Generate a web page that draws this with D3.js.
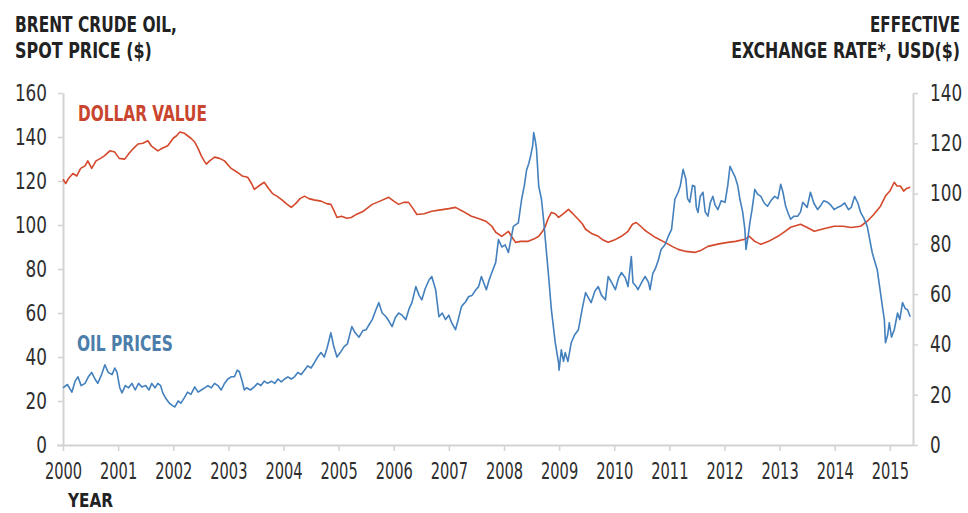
<!DOCTYPE html>
<html>
<head>
<meta charset="utf-8">
<script src="https://cdn.jsdelivr.net/npm/d3@7"></script>
<style>
  html, body { margin: 0; padding: 0; background: #fff; }
  svg { display: block; }
  .tick text { font-family: "DejaVu Sans Condensed", "Liberation Sans Narrow", sans-serif; fill: #2e2e2e; }
  .title { font-family: "DejaVu Sans Condensed", "Liberation Sans Narrow", sans-serif; font-weight: bold; fill: #222; }
</style>
</head>
<body>
<svg id="chart" width="968" height="513"></svg>
<script>
// Brent crude spot price, $ per barrel (decimal year, value)
const oilDates = [
  2000.00,2000.08,2000.16,2000.22,2000.27,2000.33,2000.40,2000.46,2000.52,2000.58,2000.63,2000.70,2000.76,2000.82,2000.89,2000.94,2000.98,
  2001.03,2001.07,2001.13,2001.19,2001.25,2001.31,2001.37,2001.43,2001.50,2001.56,2001.61,2001.67,2001.72,2001.77,2001.81,2001.87,2001.93,2001.98,
  2002.03,2002.09,2002.14,2002.20,2002.26,2002.32,2002.39,2002.45,2002.51,2002.57,2002.63,2002.69,2002.75,2002.81,2002.87,2002.93,2002.99,
  2003.05,2003.11,2003.16,2003.20,2003.25,2003.29,2003.33,2003.40,2003.47,2003.53,2003.59,2003.65,2003.71,2003.78,2003.84,2003.90,2003.96,
  2004.02,2004.08,2004.14,2004.20,2004.26,2004.32,2004.38,2004.44,2004.50,2004.56,2004.62,2004.68,2004.74,2004.79,2004.86,2004.91,2004.97,
  2005.03,2005.10,2005.16,2005.24,2005.30,2005.37,2005.44,2005.50,2005.56,2005.61,2005.67,2005.73,2005.79,2005.86,2005.92,2005.97,
  2006.03,2006.09,2006.15,2006.22,2006.28,2006.33,2006.40,2006.46,2006.51,2006.57,2006.64,2006.69,2006.76,2006.82,2006.88,2006.94,
  2007.00,2007.05,2007.12,2007.17,2007.23,2007.30,2007.36,2007.42,2007.49,2007.54,2007.59,2007.68,2007.73,2007.78,2007.85,2007.90,2007.96,
  2008.02,2008.08,2008.13,2008.17,2008.26,2008.32,2008.37,2008.41,2008.45,2008.48,2008.52,2008.54,2008.57,2008.59,2008.63,2008.68,2008.72,2008.75,2008.81,2008.86,2008.93,2008.99,
  2009.00,2009.04,2009.08,2009.11,2009.16,2009.22,2009.28,2009.35,2009.42,2009.48,2009.53,2009.58,2009.65,2009.71,2009.77,2009.84,2009.89,2009.95,
  2010.02,2010.08,2010.13,2010.20,2010.25,2010.31,2010.34,2010.40,2010.43,2010.50,2010.56,2010.62,2010.65,2010.70,2010.74,2010.80,2010.85,2010.92,2010.98,
  2011.04,2011.10,2011.16,2011.20,2011.25,2011.30,2011.33,2011.37,2011.42,2011.46,2011.49,2011.52,2011.56,2011.61,2011.65,2011.70,2011.74,2011.79,2011.83,2011.88,2011.94,
  2012.01,2012.06,2012.10,2012.15,2012.19,2012.24,2012.28,2012.33,2012.37,2012.39,2012.43,2012.46,2012.50,2012.55,2012.60,2012.66,2012.72,2012.78,2012.84,2012.91,2012.97,
  2013.02,2013.06,2013.11,2013.16,2013.20,2013.26,2013.33,2013.38,2013.42,2013.50,2013.56,2013.62,2013.69,2013.75,2013.80,2013.87,2013.93,2013.99,
  2014.05,2014.10,2014.18,2014.25,2014.30,2014.36,2014.42,2014.47,2014.53,2014.59,2014.68,2014.72,2014.77,2014.83,2014.87,2014.90,2014.92,2014.96,2014.99,
  2015.03,2015.08,2015.14,2015.18,2015.23,2015.28,2015.32,2015.37
];
const oilPrices = [
  26,27.5,24,29,31,27,28,31,33,30,28,32,36.5,33,32,35,33,
  26,23.7,27,26,28,25,28,26.4,27,25,28,26,28,27,23.7,21,19,18,
  17.3,20,19,21.4,24,23,26.4,24,25,26,27,26,28,27,25,28,30,
  31,31,34,33.3,29,25,26,25,26.4,28,27,29,28,29,28,30,28.7,
  30,31,30,31,33,32,34,36,35,37.4,40,42,40,44,51,45,40,
  42,44.7,46,53.8,51,49,52,52.4,55,57,61,64.7,60,58.3,56,53.8,
  58,60,59,57,62,64.7,72,68,66,71,75,76.6,70.6,58.3,60,57,
  59,55.6,52.4,57,63,65,67.5,68,70.6,72,76.6,70.6,75,78.4,83,93.4,90,
  91,87.5,94,99.4,101,111.7,118,125,128,131,136,142,138,134.5,117.6,111.7,102,93.4,76.6,61.5,46.5,37.4,
  34,43.3,38,42,38,46.5,50,52.4,62,69.3,67,64.7,70,72,68,66,76.6,74,
  70.6,76,78.4,76,72,85.7,73.8,72,70.6,74,76.6,74,70.6,78,79.8,84,88.9,91,94.8,
  98,111.7,114.9,118,125.3,120.8,112,110.3,118,117.6,108,105.7,113,114.9,106,104,110,113,109,107,111,
  110.3,118,126.7,124,122,118,111.7,106,98,88.9,95,101,107,116.2,114,113,110,108.5,111,113,112,
  118.5,115,108.5,105,102.6,104,104,106,110.3,108,114.9,110,107,109,111,110.3,109,107,
  108,108.5,110,107,108,113,110,105.7,103,99.4,87.5,84,79.8,69.3,62,57,46.5,50,55.6,
  49,52.4,60,57,64.7,62,61.5,58.3
];

// Trade-weighted effective exchange rate of the US dollar (decimal year, index)
const dollarDates = [
  2000.00,2000.05,2000.10,2000.18,2000.25,2000.32,2000.40,2000.45,2000.52,2000.60,2000.68,2000.75,2000.85,2000.94,
  2001.02,2001.12,2001.20,2001.28,2001.36,2001.45,2001.54,2001.60,2001.66,2001.72,2001.80,2001.90,
  2002.00,2002.06,2002.12,2002.20,2002.26,2002.32,2002.39,2002.45,2002.51,2002.56,2002.60,2002.66,2002.75,2002.84,2002.93,
  2003.05,2003.16,2003.25,2003.35,2003.42,2003.47,2003.55,2003.65,2003.73,2003.80,2003.88,2003.96,
  2004.05,2004.14,2004.22,2004.30,2004.38,2004.46,2004.55,2004.68,2004.78,2004.86,2004.92,2004.97,
  2005.05,2005.15,2005.23,2005.32,2005.45,2005.61,2005.75,2005.91,
  2006.00,2006.09,2006.18,2006.27,2006.35,2006.42,2006.55,2006.69,2006.85,
  2007.00,2007.12,2007.25,2007.41,2007.55,2007.67,2007.78,2007.85,2007.96,
  2008.02,2008.08,2008.15,2008.21,2008.30,2008.44,2008.55,2008.63,2008.70,2008.75,2008.80,2008.86,2008.93,2008.99,
  2009.08,2009.17,2009.25,2009.35,2009.42,2009.48,2009.60,2009.71,2009.80,2009.89,
  2010.00,2010.13,2010.25,2010.33,2010.40,2010.48,2010.55,2010.61,2010.75,2010.92,
  2011.05,2011.16,2011.30,2011.46,2011.58,2011.70,2011.80,2011.90,
  2012.06,2012.20,2012.37,2012.45,2012.55,2012.66,2012.80,2012.97,
  2013.10,2013.20,2013.38,2013.50,2013.63,2013.80,2013.99,
  2014.15,2014.30,2014.47,2014.59,2014.70,2014.83,2014.92,
  2015.00,2015.08,2015.13,2015.19,2015.25,2015.30,2015.37
];
const dollarIndex = [
  105.7,104,106,108,107,110,111,113,110,113,114,115,117,116.5,
  114,113.7,116,118,119.7,120,121,119,118,117,118,119,
  122,123,124.5,124,123,122,120.5,118,115,113,111.7,113,114.5,114,113,
  110,108.5,107,106.5,104,101.7,103,104.5,102,100,99,97.7,
  96,94.5,96,98,99,98,97.5,97,96,95.7,93,90.5,
  91,90.2,90.5,91.7,93,95.7,97,98.5,
  97,95.7,96.5,96.5,94,91.7,92,93,93.5,
  94,94.5,93,91,90,89,87,84.6,83,
  84,85,82.5,80.6,81,81,82,83,85,87,90,92.5,92,90.5,
  92,93.7,92,89.7,88,85.8,84,83,81.5,80.6,
  81.5,83,85,87.8,88.5,87,85.5,84.6,82.5,80.6,
  79,77.8,77,76.6,77.5,79,79.5,80,
  80.6,81,81.8,83,81,79.8,81,83,
  85,86.6,87.8,86.5,85,86,87,
  87,86.5,87,89,91.5,95,99,
  101,104.5,103,103,101,102,102.5
];

const yearTicks = [2000,2001,2002,2003,2004,2005,2006,2007,2008,2009,2010,2011,2012,2013,2014,2015];
const oilTicks = [0,20,40,60,80,100,120,140,160];
const dollarTicks = [0,20,40,60,80,100,120,140];

const oilSeries = oilDates.map((d, i) => ({ t: d, v: oilPrices[i] }));
const dollarSeries = dollarDates.map((d, i) => ({ t: d, v: dollarIndex[i] }));

const svg = d3.select("#chart");
const plot = { left: 63, right: 913, top: 93, bottom: 445 };

const x = d3.scaleLinear().domain([2000, 2015.42]).range([plot.left, plot.right]);
const yOil = d3.scaleLinear().domain([0, 160]).range([plot.bottom, plot.top]);
const yDollar = d3.scaleLinear().domain([0, 140]).range([plot.bottom, plot.top]);

const axisColor = "#d3d3d3";

// condensed numerals: squeeze each label to a fixed width per character
function styleAxis(g, size, perChar) {
  g.select(".domain").attr("stroke", axisColor).attr("stroke-width", 2);
  g.selectAll(".tick line").attr("stroke", axisColor).attr("stroke-width", 1.5);
  g.selectAll(".tick text")
    .attr("font-size", size)
    .attr("lengthAdjust", "spacingAndGlyphs")
    .attr("textLength", function () { return this.textContent.length * perChar; });
}

// left axis: oil price
svg.append("g")
  .attr("transform", `translate(${plot.left},0)`)
  .call(d3.axisLeft(yOil).tickValues(oilTicks).tickSize(5).tickSizeOuter(0).tickPadding(11))
  .call(g => styleAxis(g, 23, 10.7));

// right axis: dollar index
svg.append("g")
  .attr("transform", `translate(${plot.right},0)`)
  .call(d3.axisRight(yDollar).tickValues(dollarTicks).tickSize(5).tickSizeOuter(0).tickPadding(12))
  .call(g => styleAxis(g, 23, 10.7));

// bottom axis: years
svg.append("g")
  .attr("transform", `translate(0,${plot.bottom})`)
  .call(d3.axisBottom(x).tickValues(yearTicks).tickFormat(d3.format("d")).tickSize(6).tickSizeOuter(0).tickPadding(12))
  .call(g => styleAxis(g, 23, 9.3))
  .call(g => g.select(".domain").attr("d", `M${plot.left - 6},0.5H${plot.right}`));

// series lines
const oilLine = d3.line().x(d => x(d.t)).y(d => yOil(d.v));
const dollarLine = d3.line().x(d => x(d.t)).y(d => yDollar(d.v));

svg.append("path")
  .datum(dollarSeries)
  .attr("fill", "none")
  .attr("stroke", "#d4482b")
  .attr("stroke-width", 1.6)
  .attr("stroke-linejoin", "round")
  .attr("d", dollarLine);

svg.append("path")
  .datum(oilSeries)
  .attr("fill", "none")
  .attr("stroke", "#4380bd")
  .attr("stroke-width", 1.6)
  .attr("stroke-linejoin", "round")
  .attr("d", oilLine);

// bold condensed labels: measured, then scaled horizontally to the set width
function label(txt, xPos, yPos, size, width, color, anchor) {
  const t = svg.append("text").attr("class", "title")
    .attr("x", 0).attr("y", 0)
    .attr("font-size", size)
    .attr("text-anchor", anchor || "start")
    .style("fill", color || "#222")
    .text(txt);
  const natural = t.node().getComputedTextLength() || width;
  t.attr("transform", `translate(${xPos},${yPos}) scale(${width / natural},1)`);
}

// series labels
label("DOLLAR VALUE", 78, 121, 21, 129, "#c9452e");
label("OIL PRICES", 77, 351, 21, 96, "#4b7eaa");

// axis titles
label("BRENT CRUDE OIL,", 15, 32, 22, 162);
label("SPOT PRICE ($)", 15, 58, 22, 137);
label("EFFECTIVE", 960, 32, 21, 90, "#222", "end");
label("EXCHANGE RATE*, USD($)", 960, 58, 21, 229, "#222", "end");
label("YEAR", 68, 507, 19, 45);
</script>
</body>
</html>
